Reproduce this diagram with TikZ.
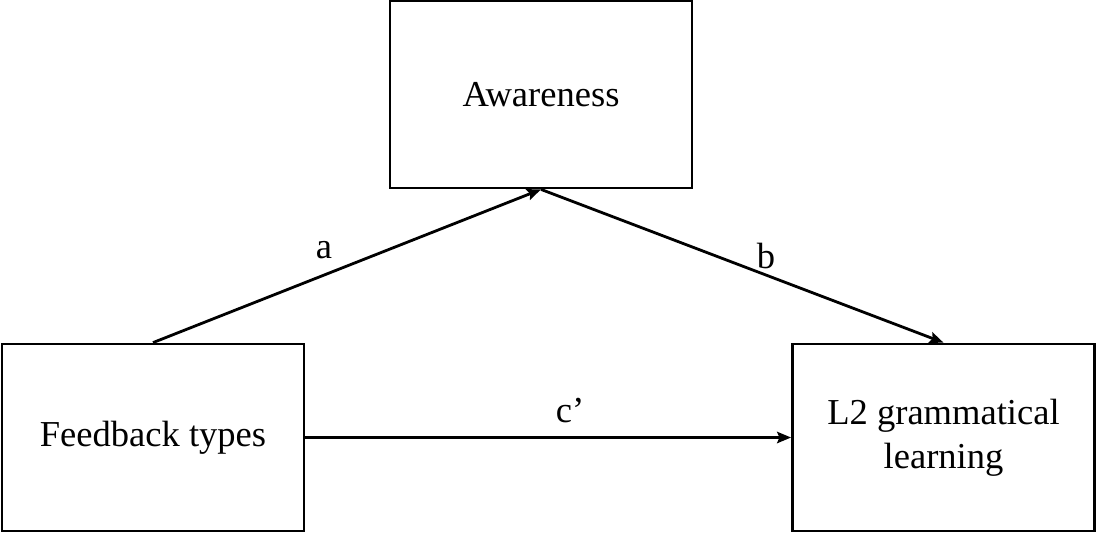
\documentclass[tikz,border=0pt]{standalone}
\usepackage{fontspec}
\setmainfont{Liberation Serif}
\usetikzlibrary{arrows.meta}
\begin{document}
\begin{tikzpicture}[x=0.75pt,y=-0.75pt,
  box/.style={draw,line width=2.1pt,minimum width=302*0.75pt,minimum height=187*0.75pt,inner sep=0pt,align=center,font=\fontsize{27.4pt}{33pt}\selectfont},
  lab/.style={font=\fontsize{27.4pt}{33pt}\selectfont,inner sep=0pt},
  arr/.style={line width=2.1pt,-{Stealth[length=10.5pt,width=8.5pt,inset=1.8pt]}}]
\useasboundingbox (0,0) rectangle (1096,533);
\node[box] (aw) at (541,94.5) {Awareness};
\node[box] (fb) at (153,437.5) {Feedback types};
\node[box] (l2) at (943.5,437.5) {L2 grammatical\\learning};
\draw[arr] (fb.north) -- (aw.south);
\draw[arr] (aw.south) -- (l2.north);
\draw[arr] (fb.east) -- (l2.west);
\node[lab] (la) at (324,250) {a};
\node[lab] (lb) at (766,256) {b};
\node[lab] (lc) at (570,411) {c’};
\end{tikzpicture}
\end{document}
